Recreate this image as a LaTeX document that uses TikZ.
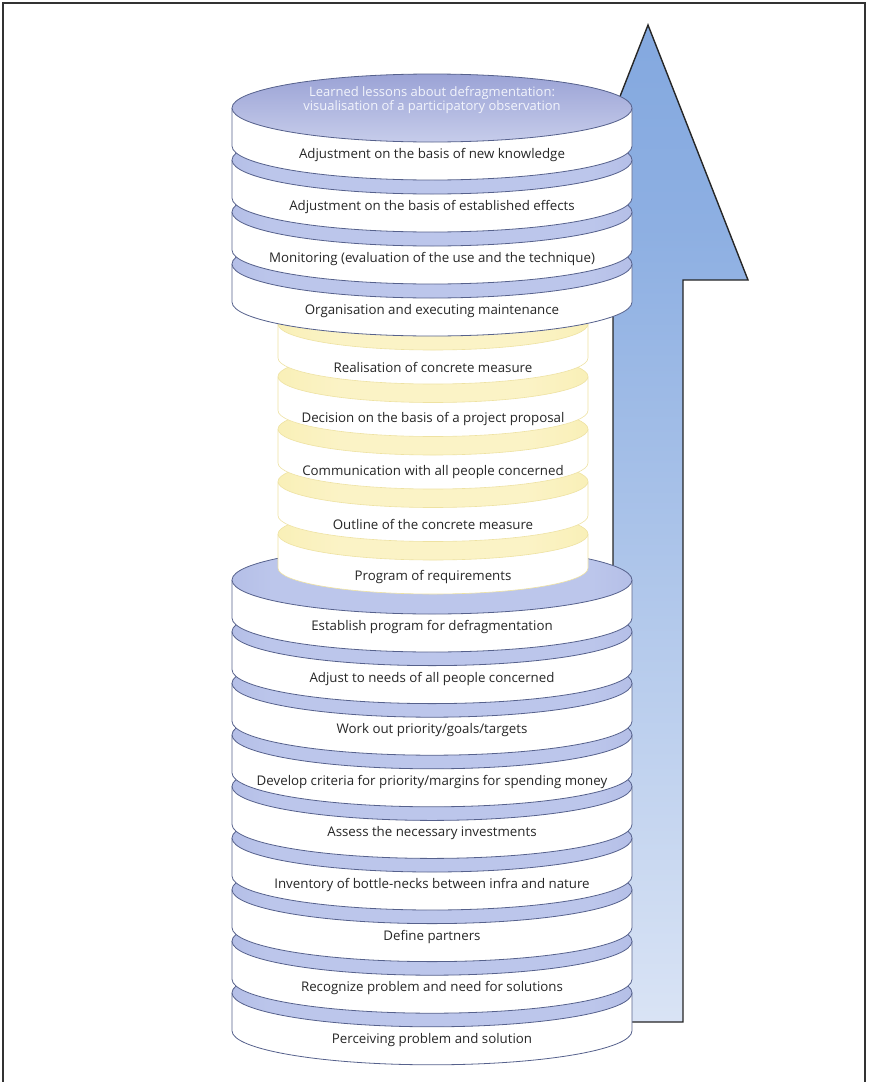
\documentclass[tikz,border=0pt]{standalone}
\usepackage{fontspec}
\newfontfamily\labelfont{Open Sans}
\definecolor{framecol}{HTML}{333333}
\definecolor{diskline}{HTML}{56618C}
\definecolor{rimEdge}{HTML}{8F9BD4}
\definecolor{rimMid}{HTML}{BCC6EB}
\definecolor{sideEdge}{HTML}{D2D9F2}
\definecolor{titleTop}{HTML}{858ECB}
\definecolor{titleBot}{HTML}{DCE1F5}
\definecolor{titleText}{HTML}{F2F4FC}
\definecolor{yelEdge}{HTML}{F4E894}
\definecolor{yelMid}{HTML}{FBF3C6}
\definecolor{yelSide}{HTML}{FDF3C4}
\definecolor{yelLine}{HTML}{EEE2A2}
\definecolor{arrA}{HTML}{6D98D8}
\definecolor{arrB}{HTML}{8DAFE2}
\definecolor{arrC}{HTML}{C6D6F0}
\definecolor{arrD}{HTML}{F2F5FB}
\pgfdeclarehorizontalshading{sideshade}{100bp}{color(0bp)=(sideEdge); color(14bp)=(white); color(86bp)=(white); color(100bp)=(sideEdge)}
\pgfdeclarehorizontalshading{rimshade}{100bp}{color(0bp)=(rimEdge); color(30bp)=(rimMid); color(70bp)=(rimMid); color(100bp)=(rimEdge)}
\pgfdeclarehorizontalshading{yelsideshade}{100bp}{color(0bp)=(yelSide); color(14bp)=(white); color(86bp)=(white); color(100bp)=(yelSide)}
\pgfdeclarehorizontalshading{yelrimshade}{100bp}{color(0bp)=(yelEdge); color(35bp)=(yelMid); color(65bp)=(yelMid); color(100bp)=(yelEdge)}
\pgfdeclareverticalshading{titleshade}{100bp}{color(0bp)=(titleBot); color(100bp)=(titleTop)}
\pgfdeclareverticalshading{arrowfade}{100bp}{color(0bp)=(white); color(12bp)=(arrD); color(35bp)=(arrC); color(65bp)=(arrB); color(100bp)=(arrA)}
\tikzset{
  bluesidefill/.style={shading=sideshade},
  bluerimfill/.style={shading=rimshade, draw=diskline, line width=0.8pt},
  bluetitlefill/.style={shading=titleshade, draw=diskline, line width=0.8pt},
  blueedge/.style={draw=diskline, line width=0.8pt},
  yelsidefill/.style={shading=yelsideshade},
  yelrimfill/.style={shading=yelrimshade, draw=yelLine, line width=0.6pt},
  yeledge/.style={draw=yelLine, line width=0.6pt},
  lbl/.style={font=\labelfont\fontsize{13.3}{15}\selectfont, text=black!85, inner sep=0pt},
  titlelbl/.style={font=\labelfont\fontsize{13}{14.5}\selectfont, text=titleText, align=center, inner sep=0pt}
}
% one disk of a stack: centre x, top-ellipse centre y, radii, side height,
% side fill, top fill, outline
\newcommand\stackdisk[8]{%
  \path[#6] (#1-#3,#2) -- (#1-#3,#2+#5)
    .. controls (#1-#3,#2+#5+0.5523*#4) and (#1-0.5523*#3,#2+#5+#4) .. (#1,#2+#5+#4)
    .. controls (#1+0.5523*#3,#2+#5+#4) and (#1+#3,#2+#5+0.5523*#4) .. (#1+#3,#2+#5)
    -- (#1+#3,#2) -- cycle;
  \draw[#8] (#1-#3,#2) -- (#1-#3,#2+#5)
    .. controls (#1-#3,#2+#5+0.5523*#4) and (#1-0.5523*#3,#2+#5+#4) .. (#1,#2+#5+#4)
    .. controls (#1+0.5523*#3,#2+#5+#4) and (#1+#3,#2+#5+0.5523*#4) .. (#1+#3,#2+#5)
    -- (#1+#3,#2);
  \path[#7] (#1,#2) ellipse[x radius=#3, y radius=#4];
}
\begin{document}
\begin{tikzpicture}[x=1pt,y=-1pt]
\useasboundingbox (0,0) rectangle (868,1082);
% frame
\draw[framecol, line width=1.6pt] (3,1082) -- (3,3) -- (865,3) -- (865,1082);
% upward arrow behind the stacks
\path[shading=arrowfade] (613,1022) -- (613,280) -- (548,280) -- (648,25) -- (748,280) -- (683,280) -- (683,1022) -- cycle;
\draw[black!85, line width=1.4pt, line join=miter] (613,1022) -- (613,280) -- (548,280) -- (648,25) -- (748,280) -- (683,280) -- (683,1022) -- cycle;
% lower blue stack, drawn from the bottom up
\foreach \y in {1039.8,988.2,936.6,885,833.4,781.8,730.2,678.6,627}{
  \stackdisk{432}{\y-47}{200}{34}{38}{bluesidefill}{bluerimfill}{blueedge}
}
% yellow stack
\foreach \y in {577,524.5,472,419.5,367}{
  \stackdisk{433}{\y-43}{155}{26}{34}{yelsidefill}{yelrimfill}{yeledge}
}
% upper blue stack
\foreach \y in {311,259,207}{
  \stackdisk{432}{\y-47}{200}{34}{38}{bluesidefill}{bluerimfill}{blueedge}
}
\stackdisk{432}{155-47}{200}{34}{38}{bluesidefill}{bluetitlefill}{blueedge}
% labels
\node[titlelbl] (title) at (432,100) {Learned lessons about defragmentation:\\visualisation of a participatory observation};
\node[lbl] (u1) at (432,155) {Adjustment on the basis of new knowledge};
\node[lbl] (u2) at (432,207) {Adjustment on the basis of established effects};
\node[lbl] (u3) at (432,259) {Monitoring (evaluation of the use and the technique)};
\node[lbl] (u4) at (432,311) {Organisation and executing maintenance};
\node[lbl] (y1) at (433,367) {Realisation of concrete measure};
\node[lbl] (y2) at (433,419.5) {Decision on the basis of a project proposal};
\node[lbl] (y3) at (433,472) {Communication with all people concerned};
\node[lbl] (y4) at (433,524.5) {Outline of the concrete measure};
\node[lbl] (y5) at (433,577) {Program of requirements};
\node[lbl] (b1) at (432,627) {Establish program for defragmentation};
\node[lbl] (b2) at (432,678.6) {Adjust to needs of all people concerned};
\node[lbl] (b3) at (432,730.2) {Work out priority/goals/targets};
\node[lbl] (b4) at (432,781.8) {Develop criteria for priority/margins for spending money};
\node[lbl] (b5) at (432,833.4) {Assess the necessary investments};
\node[lbl] (b6) at (432,885) {Inventory of bottle-necks between infra and nature};
\node[lbl] (b7) at (432,936.6) {Define partners};
\node[lbl] (b8) at (432,988.2) {Recognize problem and need for solutions};
\node[lbl] (b9) at (432,1039.8) {Perceiving problem and solution};
\end{tikzpicture}
\end{document}
